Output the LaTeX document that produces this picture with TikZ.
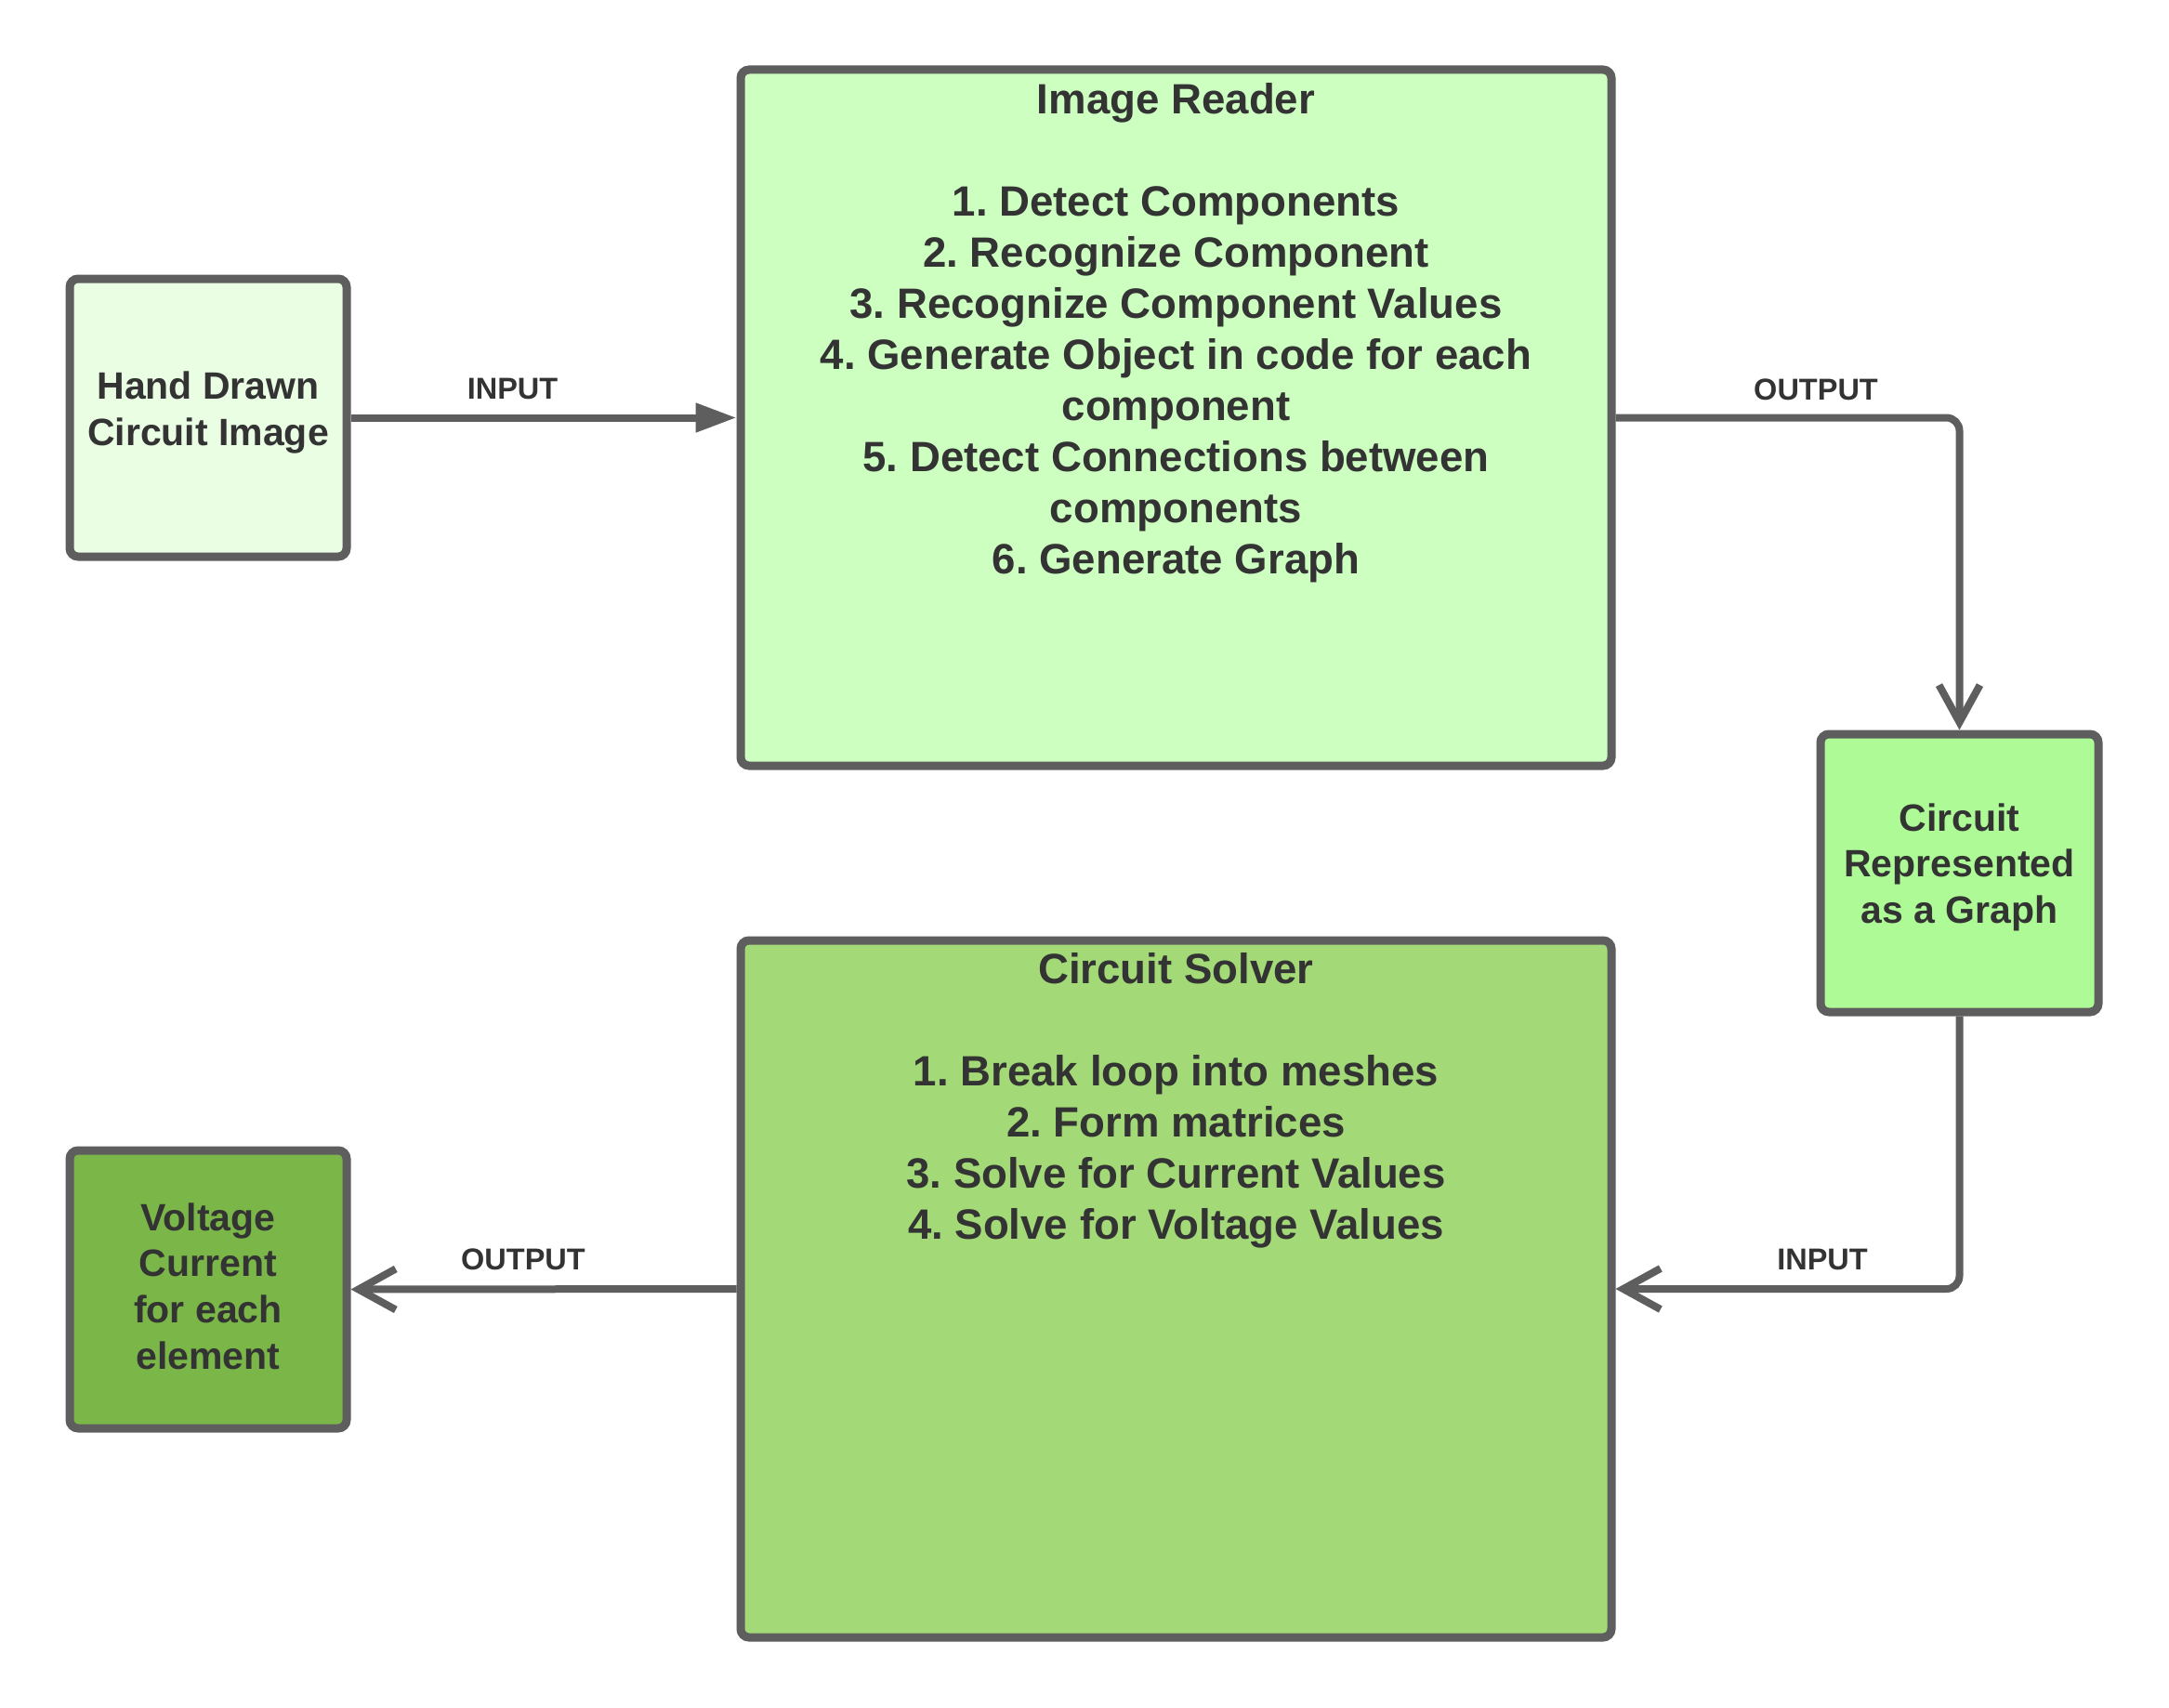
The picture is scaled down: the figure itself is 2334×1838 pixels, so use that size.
\documentclass[tikz,border=0pt]{standalone}
\usepackage{fontspec}
\setmainfont{Liberation Sans}
\usetikzlibrary{arrows.meta}
\frenchspacing
\definecolor{strokegray}{HTML}{5E5E5E}
\definecolor{txt}{HTML}{333333}
\definecolor{fillA}{HTML}{EAFEE4}
\definecolor{fillB}{HTML}{CDFFC0}
\definecolor{fillC}{HTML}{AEFA96}
\definecolor{fillD}{HTML}{A3D977}
\definecolor{fillE}{HTML}{7AB648}
\begin{document}
\begin{tikzpicture}[x=1pt,y=-1pt,
  box/.style={draw=strokegray, line width=9pt, rounded corners=9pt, inner sep=0pt},
  listtext/.style={anchor=north, align=center, inner sep=0pt, text=txt,
    font=\fontsize{45.6pt}{55pt}\selectfont\bfseries\frenchspacing},
  smalltext/.style={anchor=north, align=center, inner sep=0pt, text=txt,
    font=\fontsize{41pt}{49.6pt}\selectfont\bfseries\frenchspacing},
  lbl/.style={anchor=base, inner sep=0pt, text=txt,
    font=\fontsize{32.5pt}{39pt}\selectfont\bfseries},
  conn/.style={draw=strokegray, line width=8pt, rounded corners=14pt},
  openarrow/.style={-{Straight Barb[length=40pt,width=44pt]}},
  filledarrow/.style={-{Triangle[length=44pt,width=30pt]}}
]
\useasboundingbox[fill=white] (0,0) rectangle (2334,1838);

% boxes
\node[box, fill=fillA, minimum width=298pt, minimum height=299pt] (hand) at (224,449.5) {};
\node[box, fill=fillB, minimum width=937pt, minimum height=749pt] (reader) at (1265.5,449.5) {};
\node[box, fill=fillC, minimum width=299pt, minimum height=299pt] (graph) at (2108.5,939.5) {};
\node[box, fill=fillD, minimum width=937pt, minimum height=750pt] (solver) at (1265.5,1387) {};
\node[box, fill=fillE, minimum width=298pt, minimum height=299pt] (volt) at (224,1387.5) {};

% texts
\node[smalltext] (handtext) at (224,{429.5-34.72}) {\strut Hand Drawn\\Circuit Image};
\node[listtext] (readertext) at (1265.5,{122-38.5}) {\strut Image Reader\\[55pt]1. Detect Components\\2. Recognize Component\\3. Recognize Component Values\\4. Generate Object in code for each\\component\\5. Detect Connections between\\components\\6. Generate Graph};
\node[smalltext] (graphtext) at (2108.5,{894-34.72}) {\strut Circuit\\Represented\\as a Graph};
\node[listtext] (solvertext) at (1265.5,{1058-38.5}) {\strut Circuit Solver\\[55pt]1. Break loop into meshes\\2. Form matrices\\3. Solve for Current Values\\4. Solve for Voltage Values};
\node[smalltext] (volttext) at (224,{1324-34.72}) {\strut Voltage\\Current\\for each\\element};

% connectors
\draw[conn, filledarrow] (hand.east) -- (reader.west);
\draw[conn, openarrow] (reader.east) -| (graph.north);
\draw[conn, openarrow] (graph.south) |- (solver.east);
\draw[conn, openarrow] (solver.west) -- (volt.east);

% labels
\node[lbl] (lin1) at (551.5,429) {INPUT};
\node[lbl] (lout1) at (1954,430) {OUTPUT};
\node[lbl] (lin2) at (1961,1366.5) {INPUT};
\node[lbl] (lout2) at (563,1366.5) {OUTPUT};
\end{tikzpicture}
\end{document}
